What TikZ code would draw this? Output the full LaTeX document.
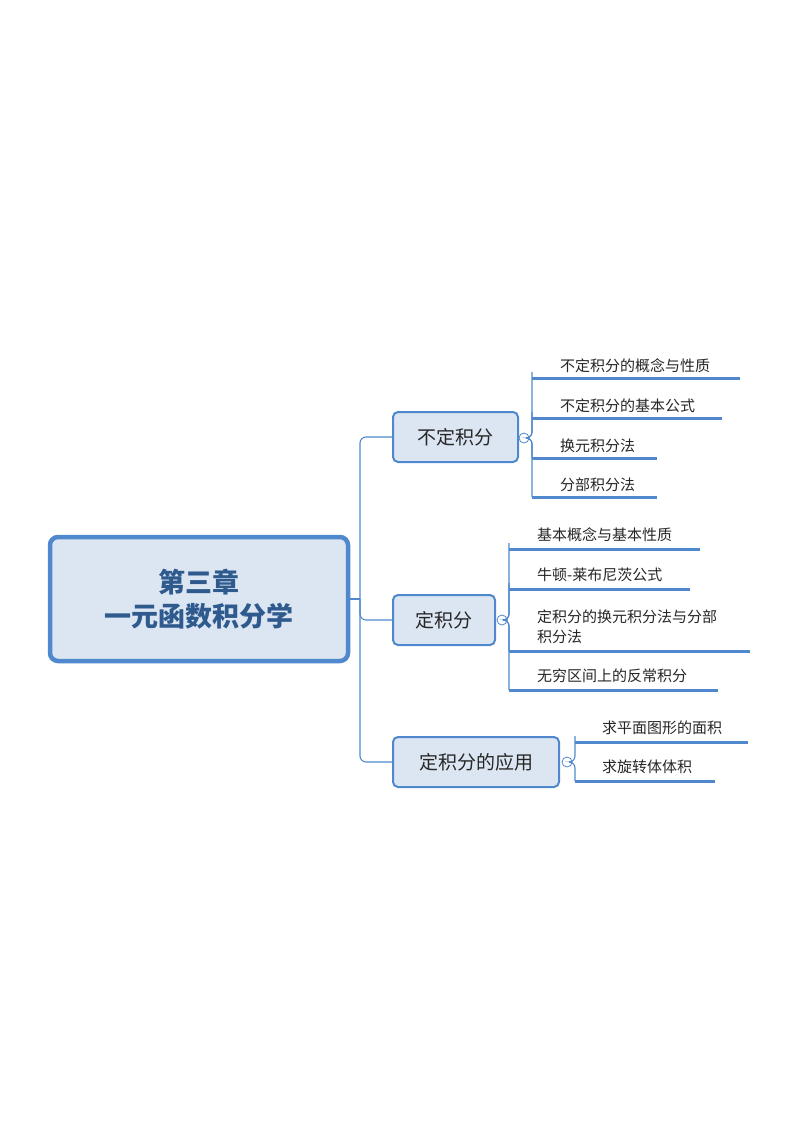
\documentclass[tikz,border=0pt]{standalone}
\usepackage{fontspec}
\setmainfont{Noto Sans CJK SC}
\newfontfamily\cjkb[BoldFont={* Bold}]{Noto Sans CJK SC}
\begin{document}
\begin{tikzpicture}[x=1pt,y=-1pt]
\definecolor{mblue}{HTML}{4F88CC}
\definecolor{mfill}{HTML}{DCE6F2}
\definecolor{mtext}{HTML}{2F5A8E}
\tikzset{
 root/.style={draw=mblue,line width=4.5pt,fill=mfill,rounded corners=8pt,minimum width=298pt,minimum height=124pt,align=center,text=mtext,font=\fontsize{27}{34}\selectfont\bfseries},
 branch/.style={draw=mblue,line width=2pt,fill=mfill,rounded corners=5pt,minimum height=50pt,anchor=west,text=black!85,font=\fontsize{19}{22}\selectfont},
 leaf/.style={anchor=south west,inner sep=0pt,font=\fontsize{15}{20}\selectfont,align=left,text=black!85},
 uline/.style={mblue,line width=3pt},
 conn/.style={mblue,line width=1.1pt,rounded corners=6pt},
 knob/.style={circle,draw=mblue,fill=white,line width=0.8pt,inner sep=0pt,minimum size=10pt,font=\fontsize{6}{6}\selectfont,text=mblue}
}
\useasboundingbox (0,0) rectangle (800,1132);
\node[root] (R) at (199,599) {第三章\\一元函数积分学};
\node[branch,minimum width=125pt] (B1) at (392,437) {不定积分};
\node[branch,minimum width=102pt] (B2) at (392,620) {定积分};
\node[branch,minimum width=166pt] (B3) at (392,762) {定积分的应用};
\coordinate (J) at (360,599);
\draw[conn] (R.east) -- (J);
\draw[conn] (J) |- (B1.west);
\draw[conn] (J) |- (B2.west);
\draw[conn] (J) |- (B3.west);
% branch 1
\node[knob] (K1) at (524,438) {$-$};
\coordinate (V1) at (532,438);
\foreach \y/\e/\t [count=\i] in {378/740/不定积分的概念与性质,418/722/不定积分的基本公式,458/657/换元积分法,497/657/分部积分法}{
 \coordinate (a1\i) at (532,\y);
 \coordinate (e1\i) at (\e,\y);
 \node[leaf] (t1\i) at (560,\y-5) {\t};
 \draw[conn] (K1.east) -- (V1) |- (a1\i);
 \draw[uline] (a1\i) -- (e1\i);
}
% branch 2
\node[knob] (K2) at (502,620) {$-$};
\coordinate (V2) at (509,620);
\foreach \y/\e/\t [count=\i] in {549/700/基本概念与基本性质,589/690/牛顿-莱布尼茨公式,651/750/{定积分的换元积分法与分部\\积分法},690/718/无穷区间上的反常积分}{
 \coordinate (a2\i) at (509,\y);
 \coordinate (e2\i) at (\e,\y);
 \node[leaf] (t2\i) at (537,\y-7) {\t};
 \draw[conn] (K2.east) -- (V2) |- (a2\i);
 \draw[uline] (a2\i) -- (e2\i);
}
% branch 3
\node[knob] (K3) at (567,762) {$-$};
\coordinate (V3) at (575,762);
\foreach \y/\e/\t [count=\i] in {742/748/求平面图形的面积,781/715/求旋转体体积}{
 \coordinate (a3\i) at (575,\y);
 \coordinate (e3\i) at (\e,\y);
 \node[leaf] (t3\i) at (602,\y-7) {\t};
 \draw[conn] (K3.east) -- (V3) |- (a3\i);
 \draw[uline] (a3\i) -- (e3\i);
}
\end{tikzpicture}
\end{document}
